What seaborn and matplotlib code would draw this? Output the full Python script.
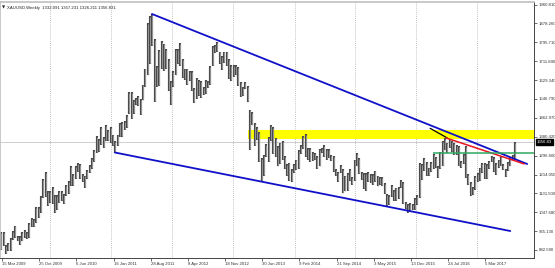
import numpy as np
import pandas as pd
import matplotlib
matplotlib.use("Agg")
import matplotlib.pyplot as plt
import seaborn as sns

# ---------------- data (XAUUSD, two-week high/low bars) ----------------
first_period = "2009-03-08"
n_periods = 222
lows = [881, 900, 866, 880, 880, 925, 935, 920, 905, 920, 935, 930, 935, 985, 985, 1000, 1025, 1045, 1110, 1115, 1075, 1090,
        1085, 1045, 1060, 1090, 1100, 1085, 1120, 1130, 1165, 1165, 1195, 1225, 1195, 1180, 1155, 1195, 1220, 1240, 1270, 1310, 1315, 1345, 1330, 1360, 1360, 1355,
        1340, 1308, 1340, 1380, 1380, 1410, 1420, 1480, 1460, 1480, 1520, 1515, 1478, 1540, 1600, 1650, 1700, 1780, 1535, 1600, 1605, 1680, 1670, 1680, 1580, 1522,
        1600, 1650, 1700, 1690, 1640, 1630, 1610, 1625, 1580, 1527, 1545, 1560, 1550, 1565, 1570, 1595, 1610, 1690, 1750, 1755, 1700, 1672, 1705, 1690, 1635, 1625,
        1645, 1650, 1605, 1555, 1560, 1590, 1535, 1321, 1430, 1338, 1365, 1268, 1180, 1210, 1290, 1270, 1360, 1305, 1290, 1250, 1260, 1280, 1240, 1210, 1185, 1182,
        1220, 1235, 1240, 1305, 1325, 1290, 1277, 1268, 1275, 1280, 1240, 1250, 1310, 1290, 1280, 1285, 1272, 1227, 1208, 1183, 1220, 1131, 1140, 1142, 1185, 1170,
        1185, 1250, 1215, 1190, 1150, 1142, 1180, 1175, 1170, 1180, 1162, 1170, 1162, 1130, 1077, 1080, 1115, 1100, 1100, 1105, 1155, 1085, 1062, 1046, 1050, 1058,
        1060, 1080, 1110, 1190, 1230, 1210, 1207, 1225, 1240, 1245, 1200, 1240, 1250, 1320, 1310, 1330, 1315, 1300, 1300, 1250, 1245, 1260, 1200, 1170, 1122, 1125,
        1145, 1180, 1185, 1220, 1195, 1195, 1240, 1270, 1225, 1214, 1245, 1250, 1236, 1204, 1230, 1250, 1276, 1280]
highs = [960, 960, 905, 915, 935, 965, 990, 945, 945, 960, 970, 960, 1000, 1025, 1020, 1070, 1070, 1120, 1195, 1227, 1140, 1140,
         1160, 1125, 1125, 1140, 1140, 1130, 1170, 1185, 1250, 1215, 1250, 1266, 1260, 1215, 1210, 1235, 1255, 1285, 1320, 1385, 1370, 1425, 1380, 1432, 1410, 1425,
         1390, 1360, 1390, 1440, 1445, 1448, 1475, 1575, 1575, 1540, 1550, 1560, 1545, 1610, 1680, 1880, 1912, 1921, 1810, 1690, 1760, 1800, 1790, 1765, 1720, 1625,
         1670, 1765, 1765, 1792, 1720, 1680, 1680, 1670, 1670, 1595, 1640, 1630, 1625, 1600, 1630, 1625, 1690, 1780, 1785, 1796, 1755, 1735, 1755, 1755, 1720, 1695,
         1695, 1695, 1685, 1620, 1600, 1620, 1605, 1500, 1490, 1440, 1425, 1400, 1285, 1300, 1349, 1380, 1433, 1425, 1375, 1340, 1355, 1362, 1295, 1260, 1267, 1240,
         1260, 1280, 1320, 1345, 1385, 1392, 1330, 1330, 1315, 1310, 1295, 1325, 1332, 1345, 1325, 1325, 1300, 1295, 1240, 1225, 1255, 1240, 1210, 1220, 1240, 1205,
         1280, 1307, 1285, 1225, 1220, 1220, 1225, 1215, 1215, 1232, 1210, 1205, 1205, 1175, 1130, 1125, 1170, 1147, 1157, 1160, 1191, 1180, 1095, 1085, 1088, 1085,
         1112, 1125, 1263, 1260, 1285, 1270, 1245, 1270, 1305, 1290, 1250, 1315, 1362, 1375, 1355, 1370, 1360, 1352, 1345, 1340, 1275, 1305, 1338, 1215, 1180, 1160,
         1207, 1220, 1245, 1264, 1264, 1260, 1275, 1296, 1290, 1265, 1280, 1296, 1260, 1240, 1270, 1292, 1300, 1357]

y_ticks = [1960.81, 1878.26, 1795.71, 1711.89, 1629.34, 1546.79, 1462.97, 1380.42,
           1296.60, 1214.05, 1131.50, 1047.68, 965.13, 882.58]
x_labels = ["15 Mar 2009", "25 Oct 2009", "6 Jun 2010", "16 Jan 2011", "28 Aug 2011",
            "8 Apr 2012", "18 Nov 2012", "30 Jun 2013", "9 Feb 2014", "21 Sep 2014",
            "3 May 2015", "13 Dec 2015", "24 Jul 2016", "5 Mar 2017"]
grid_dates = ["2009-12-29", "2011-01-01", "2012-01-04", "2013-01-06", "2014-01-15",
              "2015-01-11", "2016-01-14", "2017-01-15"]

upper_line = (["2011-09-05", "2017-11-13"], [1920, 1260.6])
lower_line = (["2011-01-25", "2017-08-03"], [1311, 966])
red_line = (["2016-07-13", "2017-10-26"], [1375, 1261])
black_line = (["2016-04-07", "2016-07-19"], [1417.5, 1375])
yellow_zone = ("2013-04-06", 1370, 1410)
green_level = ("2016-04-25", 1309)
bid_price = 1356.83
title_text = "XAUUSD,Weekly  1332.091 1357.231 1326.211 1356.831"

x_range = ("2009-03-03", "2017-12-24")
y_range = (847.4, 1972.7)

# ---------------- helpers ----------------
origin = pd.Timestamp("2009-03-15")


def weeks(d):
    return (pd.to_datetime(d) - origin) / pd.Timedelta(days=7)


starts = pd.date_range(first_period, periods=n_periods, freq="14D")
bars = pd.DataFrame({"x": np.asarray(weeks(starts)) + 0.5, "low": lows, "high": highs})

# ---------------- figure ----------------
sns.set_theme(style="white")
plt.rcParams["font.family"] = ["Liberation Sans", "DejaVu Sans"]

W, H = 555, 268
fig = plt.figure(figsize=(W / 100, H / 100), dpi=100)
fig.patch.set_facecolor("white")
ax = fig.add_axes([0 / W, 1 - 258 / H, 534 / W, 256 / H])
ax.set_facecolor("white")

ax.set_xlim(weeks(x_range[0]), weeks(x_range[1]))
ax.set_ylim(*y_range)

# grid (vertical dotted)
for g in grid_dates:
    ax.axvline(weeks(g), color="#b0b0b0", lw=0.6, ls=(0, (1, 1.5)), zorder=0)

# bid line
ax.axhline(bid_price, color="#c8c8c8", lw=0.6, zorder=0.5)

# yellow zone
ax.fill_between([weeks(yellow_zone[0]), ax.get_xlim()[1]], yellow_zone[1], yellow_zone[2],
                color="#ffff00", lw=0, zorder=1)

# price bars: dark outline with light grey core (candle look)
ax.vlines(bars["x"], bars["low"], bars["high"], color="#4a4a4a", lw=1.55, zorder=2)
ax.vlines(bars["x"], bars["low"] + 4, bars["high"] - 4, color="#a9a9a9", lw=0.55, zorder=2.1)

# trend lines
for (dates, vals), col in [(upper_line, "#1010c8"), (lower_line, "#1010c8")]:
    df = pd.DataFrame({"x": weeks(dates), "y": vals})
    sns.lineplot(data=df, x="x", y="y", ax=ax, color=col, lw=1.3, zorder=3)
df = pd.DataFrame({"x": weeks(black_line[0]), "y": black_line[1]})
sns.lineplot(data=df, x="x", y="y", ax=ax, color="black", lw=0.9, zorder=4)
df = pd.DataFrame({"x": weeks(red_line[0]), "y": red_line[1]})
sns.lineplot(data=df, x="x", y="y", ax=ax, color="#e8141e", lw=1.1, zorder=4)
ax.hlines(green_level[1], weeks(green_level[0]), ax.get_xlim()[1], color="#2fa860", lw=1.1, zorder=4)

# axes styling
ax.yaxis.tick_right()
ax.set_yticks(y_ticks)
ax.set_yticklabels([f"{v:.3f}" for v in y_ticks])
label_dates = pd.to_datetime(x_labels, format="%d %b %Y")
ax.set_xticks(weeks(label_dates))
ax.set_xticklabels(x_labels)
for lbl in ax.get_xticklabels():
    lbl.set_horizontalalignment("left")
ax.tick_params(axis="y", which="both", right=True, left=False, length=2, width=0.5,
               pad=1.5, labelsize=3.1, colors="#333333")
ax.tick_params(axis="x", which="both", bottom=True, length=2, width=0.5, pad=1.2,
               labelsize=3.1, colors="#333333")
ax.set_xlabel("")
ax.set_ylabel("")

for side in ["right", "bottom"]:
    ax.spines[side].set_color("#444444")
    ax.spines[side].set_linewidth(0.7)
for side in ["left", "top"]:
    ax.spines[side].set_color("#c0c0c0")
    ax.spines[side].set_linewidth(1.2)

# current price box on right axis
ax.annotate(f"{bid_price:.2f}", xy=(1.0, bid_price), xycoords=("axes fraction", "data"),
            xytext=(2, 0), textcoords="offset points", va="center", ha="left",
            fontsize=3.1, color="white",
            bbox=dict(boxstyle="square,pad=0.25", fc="black", ec="black"))

# title
ax.text(0.004, 0.985, "\u25bc", transform=ax.transAxes, fontsize=3, va="top", ha="left",
        color="#222222", family="DejaVu Sans")
ax.text(0.014, 0.985, title_text, transform=ax.transAxes, fontsize=3.1, va="top", ha="left",
        color="#222222")

fig.savefig("out.png", dpi=100, facecolor="white")
